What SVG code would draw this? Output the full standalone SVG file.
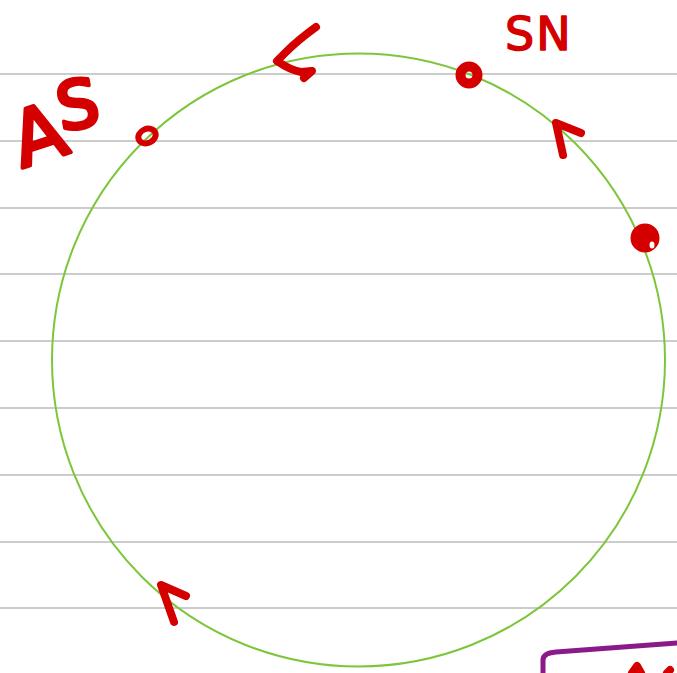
<svg xmlns="http://www.w3.org/2000/svg" width="677" height="673" viewBox="0 0 677 673">
<style>
.rule{stroke:#cccccc;stroke-width:2}
.ink{fill:none;stroke:#d40000;stroke-width:8;stroke-linecap:round;stroke-linejoin:round}
.hand{font-family:"DejaVu Sans",sans-serif;fill:#d40000;stroke:#d40000;stroke-linejoin:round}
</style>
<rect width="677" height="673" fill="#ffffff"/>
<g id="rules">
<line class="rule" x1="0" y1="74" x2="677" y2="74"/>
<line class="rule" x1="0" y1="141" x2="677" y2="141"/>
<line class="rule" x1="0" y1="208" x2="677" y2="208"/>
<line class="rule" x1="0" y1="274" x2="677" y2="274"/>
<line class="rule" x1="0" y1="341" x2="677" y2="341"/>
<line class="rule" x1="0" y1="408" x2="677" y2="408"/>
<line class="rule" x1="0" y1="475" x2="677" y2="475"/>
<line class="rule" x1="0" y1="542" x2="677" y2="542"/>
<line class="rule" x1="0" y1="608" x2="677" y2="608"/>
</g>
<g id="circle">
<circle cx="358.5" cy="360" r="306.5" fill="none" stroke="#7dc63b" stroke-width="2"/>
</g>
<g id="label-AS">
<text class="hand" x="0" y="0" font-size="76" stroke-width="4" transform="translate(22,168) rotate(-18)">A</text>
<text class="hand" x="0" y="0" font-size="66" stroke-width="4" transform="translate(61,131) rotate(-10)">S</text>
</g>
<g id="label-SN">
<text class="hand" x="505" y="50" font-size="46" stroke-width="1.5" letter-spacing="2">SN</text>
</g>
<g id="points">
<ellipse cx="147" cy="136" rx="9" ry="7" transform="rotate(-25 147 136)" fill="none" stroke="#d40000" stroke-width="6"/>
<circle cx="469" cy="75" r="8.5" fill="none" stroke="#d40000" stroke-width="10"/>
<circle cx="645" cy="238" r="12" fill="#d40000" stroke="#d40000" stroke-width="5"/>
<ellipse cx="652" cy="245" rx="2.5" ry="3.5" fill="#ffffff"/>
</g>
<g id="connectors">
<path class="ink" d="M316,27 Q298,40 286,52 L277,61 Q290,70 301,72 L312,71 L304,78"/>
<path class="ink" d="M563,155 L556,123 L581,133"/>
<path class="ink" d="M174,622 L161,585 L186,596"/>
<path d="M543,673 L543,660 Q543,653 556,652 L677,643" fill="none" stroke="#8a1a8a" stroke-width="5" stroke-linecap="round"/>
<path class="ink" d="M632,673 L637,666 L641,673" stroke-width="5"/>
<path class="ink" d="M667,673 L670,670" stroke-width="5"/>
</g>
</svg>
